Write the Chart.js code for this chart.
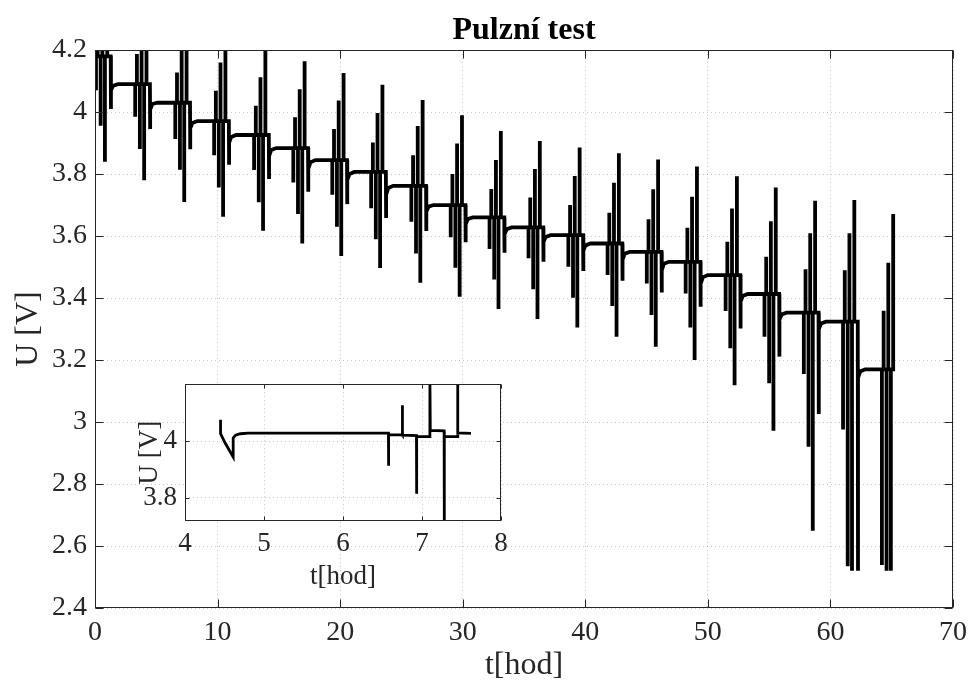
<!DOCTYPE html>
<html><head><meta charset="utf-8">
<script src="https://cdn.jsdelivr.net/npm/chart.js@4.4.1/dist/chart.umd.min.js"></script>
<style>
html,body{margin:0;padding:0;background:#fff;}
#wrap{position:relative;width:975px;height:688px;overflow:hidden;}
#main{position:absolute;left:0;top:0;}
#inset{position:absolute;left:120px;top:360px;}
</style></head><body>
<div id="wrap"><canvas id="main" width="975" height="688"></canvas><canvas id="inset" width="400" height="240"></canvas></div>
<script>
// ---- main chart data (t in hours, U in volts) ----
const startLevel = 4.19;
const cycleStart = [0.08, 3.28, 6.55, 9.72, 12.98, 16.18, 19.36, 22.53, 25.81, 29.02, 32.19, 35.37, 38.62, 41.82, 45.02, 48.19, 51.45, 54.62, 57.83, 61.03, 64.20];
const restLevel  = [4.18, 4.09, 4.03, 3.971, 3.926, 3.884, 3.845, 3.807, 3.762, 3.70, 3.66, 3.628, 3.603, 3.576, 3.549, 3.517, 3.474, 3.413, 3.353, 3.324, 3.17];
const dis1 = [4.07, 3.985, 3.913, 3.861, 3.813, 3.773, 3.733, 3.69, 3.646, 3.596, 3.558, 3.528, 3.501, 3.474, 3.447, 3.415, 3.358, 3.275, 3.155, 2.976, 2.539];
const chg1 = [4.28, 4.187, 4.128, 4.069, 4.02, 3.983, 3.945, 3.902, 3.861, 3.80, 3.752, 3.724, 3.70, 3.675, 3.654, 3.627, 3.582, 3.533, 3.493, 3.49, 3.359];
const dis2 = [3.956, 3.881, 3.814, 3.757, 3.709, 3.671, 3.63, 3.59, 3.544, 3.498, 3.46, 3.428, 3.401, 3.374, 3.345, 3.305, 3.238, 3.125, 2.92, 2.535, 2.52];
const chg2 = [4.37, 4.28, 4.22, 4.16, 4.112, 4.074, 4.037, 3.997, 3.955, 3.899, 3.845, 3.816, 3.794, 3.772, 3.751, 3.727, 3.689, 3.648, 3.609, 3.609, 3.514];
const dis3 = [3.84, 3.78, 3.71, 3.662, 3.617, 3.576, 3.536, 3.497, 3.449, 3.404, 3.365, 3.332, 3.305, 3.275, 3.243, 3.2, 3.119, 2.972, 2.649, 2.52, 2.52];
const chg3 = [4.46, 4.37, 4.25, 4.25, 4.198, 4.164, 4.126, 4.088, 4.039, 3.99, 3.939, 3.907, 3.886, 3.867, 3.847, 3.824, 3.793, 3.757, 3.714, 3.716, 3.671];
const dipLevel   = [4.01, 3.945, 3.88, 3.83, 3.784, 3.743, 3.703, 3.658, 3.616, 3.58, 3.546, 3.517, 3.487, 3.456, 3.418, 3.372, 3.302, 3.211, 3.026, 2.52, null];
const relaxStart = [4.07, 4.008, 3.948, 3.902, 3.858, 3.818, 3.781, 3.734, 3.679, 3.638, 3.606, 3.581, 3.553, 3.524, 3.49, 3.446, 3.388, 3.33, 3.30, 3.142, null];
const relaxMid   = [4.085, 4.026, 3.965, 3.92, 3.878, 3.838, 3.8, 3.755, 3.695, 3.655, 3.622, 3.597, 3.57, 3.543, 3.511, 3.467, 3.407, 3.347, 3.318, 3.163, null];
const endLevel = 3.255;
const pulseOffset = [0, 0.14, 0.38, 0.52, 0.73, 0.92];
const dipOffset = [1.20, 1.22, 1.40, 1.80];
const xTicks = [0, 10, 20, 30, 40, 50, 60, 70];
const yTicks = [2.4, 2.6, 2.8, 3.0, 3.2, 3.4, 3.6, 3.8, 4.0, 4.2];

// ---- inset data ----
const insetT = [4.45, 4.45, 4.51, 4.61, 4.61, 4.64, 4.70, 4.80, 6.575, 6.575, 6.58, 6.75, 6.75, 6.755, 6.93, 6.93, 6.935, 7.10, 7.10, 7.105, 7.28, 7.28, 7.285, 7.45, 7.45, 7.455, 7.62];
const insetU = [4.077, 4.027, 3.993, 3.944, 4.012, 4.022, 4.027, 4.029, 4.029, 3.913, 4.023, 4.023, 4.128, 4.022, 4.02, 3.814, 4.017, 4.017, 4.23, 4.039, 4.037, 3.70, 4.017, 4.017, 4.25, 4.03, 4.028];
const insetXTicks = [4, 5, 6, 7, 8];
const insetYTicks = [3.8, 4.0];

// ---- build point lists ----
const mainPts = [{x: 0, y: startLevel}];
for (let k = 0; k < cycleStart.length; k++) {
  const T = cycleStart[k], R = restLevel[k];
  const peaks = [dis1[k], chg1[k], dis2[k], chg2[k], dis3[k], chg3[k]];
  mainPts.push({x: T, y: R});
  const last = dipLevel[k] === null;
  peaks.forEach((v, i) => {
    const t = T + pulseOffset[i];
    mainPts.push({x: t, y: R}, {x: t, y: v});
    if (!(last && i === peaks.length - 1)) mainPts.push({x: t, y: R});
  });
  if (!last) {
    mainPts.push({x: T + dipOffset[0], y: R},
                 {x: T + dipOffset[1], y: dipLevel[k]},
                 {x: T + dipOffset[1], y: relaxStart[k]},
                 {x: T + dipOffset[2], y: relaxMid[k]},
                 {x: T + dipOffset[3], y: restLevel[k + 1]});
  } else {
    mainPts.push({x: T + pulseOffset[5], y: endLevel});
  }
}
const insetPts = insetT.map((t, i) => ({x: t, y: insetU[i]}));

const SERIF = "'Liberation Serif', 'Times New Roman', serif";
const AX = '#262626';
const gridCfg = {color: 'rgba(0,0,0,0.22)', lineWidth: 1, drawTicks: false};
const borderCfg = {display: false, dash: [1, 3]};
const fmt = v => String(+(+v).toFixed(1));

function framePlugin(len, bg) {
  return {
    id: 'frame',
    beforeDraw(chart) {
      if (!bg) return;
      const {ctx, chartArea: a} = chart;
      ctx.save(); ctx.fillStyle = bg; ctx.fillRect(a.left, a.top, a.right - a.left, a.bottom - a.top); ctx.restore();
    },
    afterDraw(chart) {
      const {ctx, chartArea: a, scales: {x, y}} = chart;
      const L = Math.round(a.left) + 0.5, R = Math.round(a.right) - 0.5, T = Math.round(a.top) + 0.5, B = Math.round(a.bottom) - 0.5;
      ctx.save();
      ctx.strokeStyle = AX; ctx.lineWidth = 1;
      ctx.strokeRect(L, T, R - L, B - T);
      ctx.beginPath();
      x.ticks.forEach(t => {
        const p = Math.round(x.getPixelForValue(t.value)) + 0.5;
        ctx.moveTo(p, B); ctx.lineTo(p, B - len);
        ctx.moveTo(p, T); ctx.lineTo(p, T + len);
      });
      y.ticks.forEach(t => {
        const p = Math.round(y.getPixelForValue(t.value)) + 0.5;
        ctx.moveTo(L, p); ctx.lineTo(L + len, p);
        ctx.moveTo(R, p); ctx.lineTo(R - len, p);
      });
      ctx.stroke();
      ctx.restore();
    }
  };
}

new Chart(document.getElementById('main'), {
  type: 'line',
  data: {datasets: [{data: mainPts, borderColor: '#000', borderWidth: 3.8, pointRadius: 0, tension: 0, fill: false, clip: 0}]},
  options: {
    responsive: false, animation: false, events: [],
    layout: {padding: {left: 0, right: 19, top: 0, bottom: 0}},
    plugins: {
      legend: {display: false}, tooltip: {enabled: false},
      title: {display: true, text: 'Pulzní test', fullSize: false, color: '#000',
              font: {family: SERIF, size: 32, weight: 'bold', lineHeight: 1.19}, padding: {top: 12, bottom: 0}}
    },
    scales: {
      x: {type: 'linear', min: 0, max: 70,
          afterBuildTicks: s => { s.ticks = xTicks.map(v => ({value: v})); },
          afterFit: s => { s.height = 80; },
          ticks: {font: {family: SERIF, size: 28}, color: AX, padding: 8, maxRotation: 0, autoSkip: false, callback: v => fmt(v)},
          grid: gridCfg, border: borderCfg,
          title: {display: true, text: 't[hod]', color: AX, font: {family: SERIF, size: 32, lineHeight: 1.2}, padding: {top: 0, bottom: 3}}},
      y: {type: 'linear', min: 2.4, max: 4.2,
          afterBuildTicks: s => { s.ticks = yTicks.map(v => ({value: v})); },
          afterFit: s => { s.width = 95; },
          ticks: {font: {family: SERIF, size: 28}, color: AX, padding: 8, callback: v => fmt(v)},
          grid: gridCfg, border: borderCfg,
          title: {display: true, text: 'U [V]', color: AX, font: {family: SERIF, size: 32, lineHeight: 1.2}, padding: {top: 9, bottom: 0}}}
    }
  },
  plugins: [framePlugin(8, null)]
});

new Chart(document.getElementById('inset'), {
  type: 'line',
  data: {datasets: [{data: insetPts, borderColor: '#000', borderWidth: 2.8, pointRadius: 0, tension: 0, fill: false, clip: 0}]},
  options: {
    responsive: false, animation: false, events: [],
    layout: {padding: {left: 0, right: 19, top: 15, bottom: 0}},
    plugins: {legend: {display: false}, tooltip: {enabled: false}, title: {display: false}},
    scales: {
      x: {type: 'linear', min: 4, max: 8,
          afterBuildTicks: s => { s.ticks = insetXTicks.map(v => ({value: v})); },
          afterFit: s => { s.height = 79; },
          ticks: {font: {family: SERIF, size: 27}, color: AX, padding: 7, maxRotation: 0, autoSkip: false, callback: v => fmt(v)},
          grid: gridCfg, border: borderCfg,
          title: {display: true, text: 't[hod]', color: AX, font: {family: SERIF, size: 27, lineHeight: 1.2}, padding: {top: 0, bottom: 7}}},
      y: {type: 'linear', min: 3.717, max: 4.203,
          afterBuildTicks: s => { s.ticks = insetYTicks.map(v => ({value: v})); },
          afterFit: s => { s.width = 65; },
          ticks: {font: {family: SERIF, size: 27}, color: AX, padding: 8, callback: v => fmt(v)},
          grid: gridCfg, border: borderCfg,
          title: {display: true, text: 'U [V]', color: AX, font: {family: SERIF, size: 27, lineHeight: 1.2}, padding: {top: 14, bottom: 0}}}
    }
  },
  plugins: [framePlugin(4, '#fff')]
});
</script>
</body></html>
